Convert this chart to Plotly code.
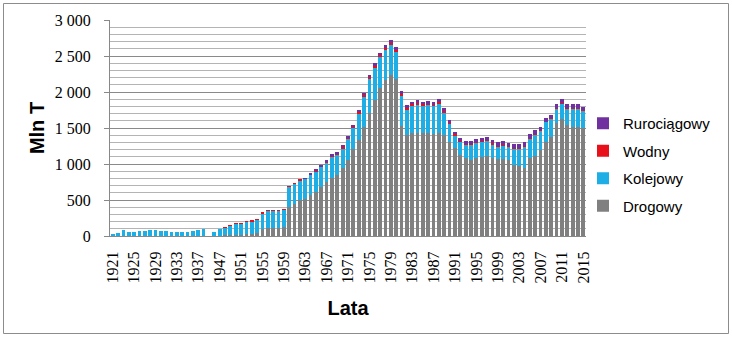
import plotly.graph_objects as go

# Categories: 1921-1938, an empty wartime slot, then 1946-2015
years = [str(y) for y in range(1921, 1939)] + ["1945"] + [str(y) for y in range(1946, 2016)]

# Freight carried by mode of transport, million tonnes
drogowy = [
    1, 1, 2, 2, 2, 3, 3, 3, 4, 4, 3, 3, 3, 3, 3, 4, 4, 5,
    None,
    3, 5, 8, 10, 15, 20, 25, 30, 40, 95, 110, 115, 118, 125,
    400, 450, 495, 520, 565, 605, 680, 750, 800, 845,
    940, 1050, 1210, 1340, 1520, 1710, 1890, 2050, 2160, 2230,
    2185, 1530, 1403, 1426, 1435, 1426, 1430, 1417, 1426, 1403,
    1310, 1218, 1125, 1079, 1056, 1079, 1102, 1110, 1085, 1065,
    1065, 1060, 990, 972, 940, 1079, 1111, 1194, 1310, 1380,
    1565, 1620, 1542, 1518, 1518, 1495,
]
kolejowy = [
    21, 39, 78, 60, 56, 63, 72, 79, 80, 72, 65, 55, 55, 59, 59, 64, 76, 91,
    None,
    52, 87, 113, 137, 164, 159, 174, 178, 183, 223, 238, 233, 231, 244,
    289, 280, 277, 273, 285, 293, 280, 270, 307, 289,
    279, 300, 290, 364, 412, 473, 452, 438, 434, 432,
    376, 423, 359, 385, 396, 383, 392, 390, 417, 318,
    249, 183, 191, 194, 215, 219, 208, 214, 191, 184,
    196, 179, 231, 249, 306, 280, 303, 266, 274, 248,
    211, 221, 234, 258, 258, 244,
]
wodny = [
    0, 0, 0, 0, 0, 0, 0, 0, 0, 0, 0, 0, 0, 0, 0, 0, 0, 0,
    None,
    0, 0, 1, 1, 1, 1, 1, 2, 2, 2, 2, 2, 3, 3,
    5, 5, 6, 6, 7, 7, 8, 8, 9, 9,
    18, 19, 20, 21, 22, 23, 24, 24, 24, 24,
    23, 22, 21, 20, 20, 19, 18, 17, 16, 15,
    12, 10, 10, 9, 9, 9, 9, 9, 9, 8,
    8, 7, 7, 7, 7, 6, 6, 6, 6, 5,
    5, 5, 5, 5, 5, 5,
]
rurociagowy = [
    0, 0, 0, 0, 0, 0, 0, 0, 0, 0, 0, 0, 0, 0, 0, 0, 0, 0,
    None,
    0, 0, 0, 0, 0, 0, 0, 0, 0, 0, 0, 0, 0, 0,
    0, 0, 0, 2, 8, 12, 15, 18, 20, 22,
    18, 20, 22, 25, 28, 30, 32, 34, 35, 36,
    36, 35, 36, 35, 38, 38, 40, 42, 44, 42,
    40, 38, 40, 42, 44, 45, 47, 47, 48, 48,
    50, 50, 50, 50, 52, 52, 52, 52, 53, 52,
    52, 52, 52, 52, 52, 52,
]

x_ticks = years[::4]
y_ticks = [0, 500, 1000, 1500, 2000, 2500, 3000]

# stacked bottom-to-top; legend lists them top-to-bottom
series = [
    ("Drogowy", drogowy, "#808080", 4),
    ("Kolejowy", kolejowy, "#1EAEE6", 3),
    ("Wodny", wodny, "#E8101A", 2),
    ("Rurociągowy", rurociagowy, "#7030A0", 1),
]

fig = go.Figure()
for name, vals, color, rank in series:
    fig.add_trace(go.Bar(
        x=years, y=vals, name=name, legendgroup=name, legendrank=rank,
        marker=dict(color=color, line=dict(width=0)),
    ))

W, H = 732, 337
ml, mr, mt, mb = 110, 146, 20, 101
pw, ph = W - ml - mr, H - mt - mb

fig.update_layout(
    width=W, height=H,
    margin=dict(l=ml, r=mr, t=mt, b=mb, autoexpand=False),
    paper_bgcolor="white", plot_bgcolor="white",
    barmode="stack", bargap=0.3,
    separators=", ",
    font=dict(family="Liberation Serif", color="black"),
    showlegend=True,
    legend=dict(
        xref="container", yref="container",
        x=583 / W, y=1 - 107 / H, xanchor="left", yanchor="top",
        traceorder="grouped", tracegroupgap=5,
        font=dict(family="Liberation Sans", size=15, color="black"),
        bgcolor="rgba(0,0,0,0)",
    ),
    xaxis=dict(
        type="category", categoryorder="array", categoryarray=years,
        tickmode="array", tickvals=x_ticks, ticktext=x_ticks,
        tickangle=-90, automargin=False,
        tickfont=dict(family="Liberation Serif", size=16, color="black"),
        ticks="", ticklabelstandoff=8,
        showline=True, linecolor="#888888", linewidth=1,
        showgrid=False, zeroline=False,
        title=dict(text="<b>Lata</b>", standoff=18,
                   font=dict(family="Liberation Sans", size=20, color="black")),
    ),
    yaxis=dict(
        range=[0, 3000], tickmode="array", tickvals=y_ticks, tickformat=",d",
        automargin=False,
        tickfont=dict(family="Liberation Serif", size=16, color="black"),
        ticks="outside", ticklen=5, tickcolor="#888888", ticklabelstandoff=10,
        showline=True, linecolor="#888888", linewidth=1,
        showgrid=True, gridcolor="#8a8a8a", gridwidth=1,
        minor=dict(dtick=100, showgrid=True, gridcolor="#b4b4b4", gridwidth=1),
        zeroline=False,
        title=dict(text="<b>Mln T</b>", standoff=4,
                   font=dict(family="Liberation Sans", size=20, color="black")),
    ),
    shapes=[dict(
        type="rect", xref="paper", yref="paper",
        x0=(3.5 - ml) / pw, x1=(728.5 - ml) / pw,
        y0=(mt + ph - 333.5) / ph, y1=(mt + ph - 3.5) / ph,
        line=dict(color="#8c8c8c", width=1), fillcolor="rgba(0,0,0,0)",
        layer="below",
    )],
)

fig.write_html("out.html")
